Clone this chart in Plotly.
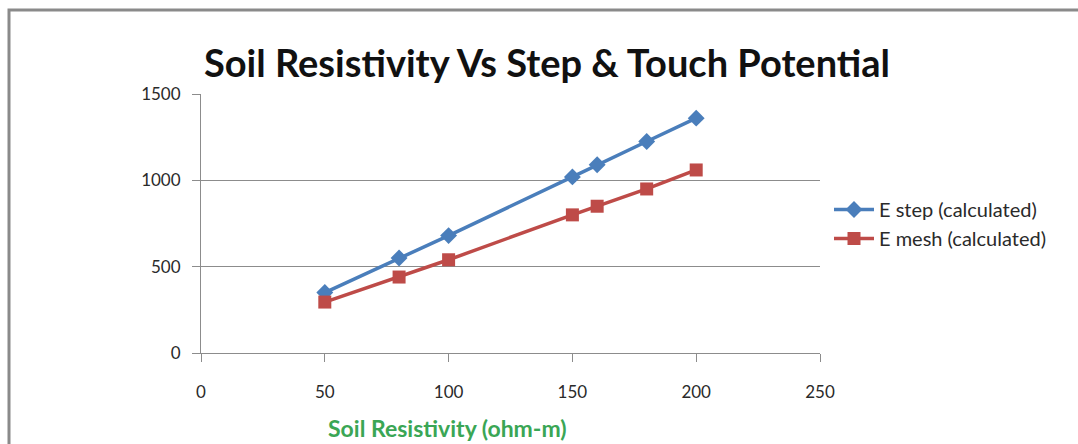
import plotly.graph_objects as go

resistivity = [50, 80, 100, 150, 160, 180, 200]
e_step = [350, 550, 680, 1020, 1090, 1225, 1360]
e_mesh = [295, 440, 540, 800, 850, 950, 1060]
series_names = ["E step (calculated)", "E mesh (calculated)"]
title_text = "Soil Resistivity Vs Step & Touch Potential"
x_title = "Soil Resistivity (ohm-m)"

W, H = 1078, 444
L, R, T, B = 201, 258, 94, 91
pw, ph = W - L - R, H - T - B

fig = go.Figure()
fig.add_trace(go.Scatter(
    x=resistivity, y=e_step, name=series_names[0], mode="lines+markers",
    line=dict(color="#4a7ebb", width=3.5),
    marker=dict(symbol="diamond", size=13, color="#4a7ebb"),
))
fig.add_trace(go.Scatter(
    x=resistivity, y=e_mesh, name=series_names[1], mode="lines+markers",
    line=dict(color="#be4b48", width=3.5),
    marker=dict(symbol="square", size=13, color="#be4b48"),
))

font_family = "Lato, 'Open Sans', sans-serif"
fig.update_layout(
    width=W, height=H,
    margin=dict(l=L, r=R, t=T, b=B, pad=0),
    paper_bgcolor="white", plot_bgcolor="white",
    font=dict(family=font_family, color="#333333"),
    title=dict(text=f"<b>{title_text}</b>", x=547 / W, xanchor="center", xref="container",
               y=1 - 64 / H, yanchor="middle", yref="container",
               font=dict(size=38, color="#111111", family=font_family)),
    xaxis=dict(range=[0, 250], tickvals=[0, 50, 100, 150, 200, 250], showgrid=False,
               showline=True, linecolor="#8c8c8c", linewidth=1, ticks="outside", ticklen=8,
               tickcolor="#8c8c8c", tickfont=dict(size=17, color="#2a2a2a"), zeroline=False,
               ticklabelstandoff=16, fixedrange=True),
    yaxis=dict(range=[0, 1500], tickvals=[0, 500, 1000, 1500], showgrid=True,
               gridcolor="#8c8c8c", gridwidth=1, showline=True, linecolor="#8c8c8c",
               linewidth=1, ticks="outside", ticklen=8, tickcolor="#8c8c8c",
               tickfont=dict(size=17, color="#2a2a2a"), zeroline=False,
               ticklabelstandoff=8, fixedrange=True),
    legend=dict(x=(829 - L) / pw, y=(353 - 190) / ph, xanchor="left", yanchor="top",
                font=dict(size=20, color="#2a2a2a"), bgcolor="rgba(0,0,0,0)",
                tracegroupgap=8, itemwidth=40),
    showlegend=True,
)

fig.add_annotation(
    text=f"<b>{x_title}</b>", xref="paper", yref="paper",
    x=(447 - L) / pw, y=(353 - 428) / ph, xanchor="center", yanchor="middle",
    showarrow=False, font=dict(size=23, color="#3aa655", family=font_family),
)

# outer chart frame (top and left borders visible)
fig.add_shape(type="rect", xref="paper", yref="paper",
              x0=(9 - L) / pw, x1=(W + 5 - L) / pw,
              y0=(353 - (H + 5)) / ph, y1=(353 - 10) / ph,
              line=dict(color="#8a8a8a", width=3), fillcolor="rgba(0,0,0,0)", layer="below")

fig.write_html("out.html")
